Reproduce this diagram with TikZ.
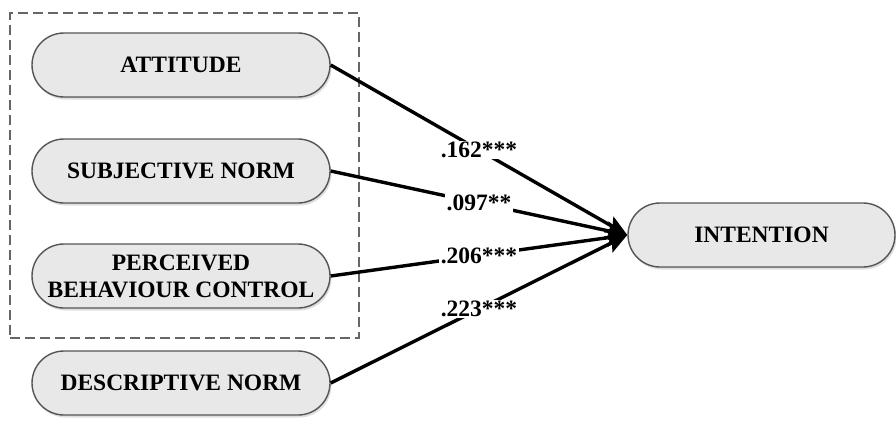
\documentclass[tikz,border=0pt]{standalone}
\usepackage{fontspec}
\setmainfont{Liberation Serif}
\usetikzlibrary{arrows.meta,shadows}
\definecolor{boxfill}{HTML}{E8E8E8}
\definecolor{boxline}{HTML}{555555}
\definecolor{dashline}{HTML}{666666}
\begin{document}
\begin{tikzpicture}[x=1pt,y=1pt,
  varbox/.style={draw=boxline, line width=1.4pt, fill=boxfill,
    rounded corners=32pt, minimum height=64pt, inner sep=0pt,
    align=center, font=\fontsize{23.5}{27}\selectfont\bfseries,
    drop shadow={shadow xshift=1.5pt, shadow yshift=-2.5pt, opacity=0.25}},
  path/.style={line width=3.4pt, -{Stealth[length=21pt,width=18pt,inset=4pt]}},
  coef/.style={fill=white, inner sep=1.5pt, font=\fontsize{23.5}{27}\selectfont\bfseries}
]
\useasboundingbox (0,0) rectangle (896,-420);
\node[draw=dashline, dashed, dash pattern=on 10pt off 5pt, line width=1.3pt,
  minimum width=349pt, minimum height=325pt, inner sep=0pt] (grp) at (184.5,-175.5) {};
\node[varbox, minimum width=298pt] (att) at (181,-65) {ATTITUDE};
\node[varbox, minimum width=298pt] (sn) at (181,-171) {SUBJECTIVE NORM};
\node[varbox, minimum width=298pt] (pbc) at (181,-276) {PERCEIVED\\BEHAVIOUR CONTROL};
\node[varbox, minimum width=298pt] (dn) at (181,-383) {DESCRIPTIVE NORM};
\node[varbox, minimum width=267pt] (int) at (761.5,-235) {INTENTION};
\draw[path] (att.east) -- node[coef] {.162***} (int.west);
\draw[path] (sn.east) -- node[coef] {.097**} (int.west);
\draw[path] (pbc.east) -- node[coef] {.206***} (int.west);
\draw[path] (dn.east) -- node[coef] {.223***} (int.west);
\end{tikzpicture}
\end{document}
